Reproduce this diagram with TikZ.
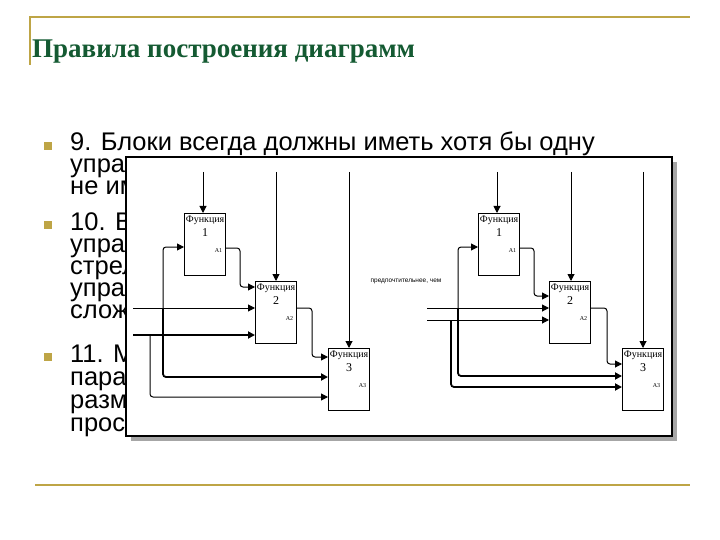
\documentclass[tikz,border=0pt]{standalone}
\usepackage{fontspec}
\setmainfont{Liberation Serif}
\newfontfamily\sansf{Liberation Sans}
\usetikzlibrary{arrows.meta}
\definecolor{gold}{RGB}{190,165,70}
\definecolor{titlegreen}{RGB}{20,90,50}
\tikzset{
  func/.style={draw, line width=1.2pt, minimum width=41pt, minimum height=62pt, anchor=north west, inner sep=0pt},
  arc/.style={line width=1pt, rounded corners=3pt, -{Triangle[length=7pt,width=7pt]}},
  bul/.style={fill=gold, minimum size=8pt, inner sep=0pt},
  body/.style={anchor=base west, font=\sansf\fontsize{25.5}{25}\selectfont, inner sep=0pt}
}
\newcommand{\funclabel}[1]{\parbox[t][58pt]{40pt}{\centering\fontsize{10}{10}\selectfont Функция\\[2pt]\fontsize{12}{12}\selectfont #1\\[10pt]\hfill\fontsize{6}{6}\selectfont A#1\hspace*{3pt}}}
\begin{document}
\begin{tikzpicture}[x=1pt,y=-1pt]
  \useasboundingbox (0,0) rectangle (720,540);
  % title and rules
  \draw[gold, line width=1.5pt] (30,65) -- (30,17) -- (690,17);
  \draw[gold, line width=1.5pt] (35,485) -- (690,485);
  \node[anchor=base west, text=titlegreen, font=\bfseries\fontsize{27}{27}\selectfont, inner sep=0pt] (title) at (32,58) {Правила построения диаграмм};
  % bullets
  \node[bul] (b1) at (48,146) {};
  \node[bul] (b2) at (48,225) {};
  \node[bul] (b3) at (48,357) {};
  \node[body] (t1) at (70,151) {9. Блоки всегда должны иметь хотя бы одну};
  \node[body] (t2) at (70,173) {управ};
  \node[body] (t3) at (70,195) {не им};
  \node[body] (t4) at (70,230) {10. В};
  \node[body] (t5) at (70,252) {управ};
  \node[body] (t6) at (70,274) {стрел};
  \node[body] (t7) at (70,296) {управ};
  \node[body] (t8) at (70,318) {слож};
  \node[body] (t9) at (70,362) {11. М};
  \node[body] (t10) at (70,385) {пара};
  \node[body] (t11) at (70,408) {разм};
  \node[body] (t12) at (70,431) {прос};
  % frame
  \fill[gray!70] (131,162) rectangle (677,441);
  \draw[fill=white, line width=1.5pt] (126,157) rectangle (672,436);
  \node[font=\sansf\fontsize{6.5}{6}\selectfont] (pref) at (406,281) {предпочтительнее, чем};
  % left diagram
  \node[func] (f1) at (184,213) {\funclabel{1}};
  \node[func] (f2) at (255,281) {\funclabel{2}};
  \node[func] (f3) at (328,348) {\funclabel{3}};
  \coordinate (c1) at (203,172);
  \coordinate (c2) at (276,172);
  \coordinate (c3) at (349,172);
  \coordinate (i1) at (133,308);
  \coordinate (i2) at (133,335);
  \draw[arc] (c1) -- (f1.north -| c1);
  \draw[arc] (c2) -- (f2.north -| c2);
  \draw[arc] (c3) -- (f3.north -| c3);
  \draw[arc] (f1.east |- 0,248) -- (240,248) -- (240,287) -- (f2.west |- 0,287);
  \draw[arc] (i1) -- (f2.west |- i1);
  \draw[arc, line width=1.8pt] (i2) -- (f2.west |- i2);
  \draw[arc] (163,308) -- (163,247) -- (f1.west |- 0,247);
  \draw[arc, line width=1.8pt] (163,308) -- (163,377) -- (f3.west |- 0,377);
  \draw[arc] (150,335) -- (150,397) -- (f3.west |- 0,397);
  \draw[arc] (f2.east |- 0,308) -- (312,308) -- (312,357) -- (f3.west |- 0,357);
  % right diagram
  \node[func] (g1) at (478,213) {\funclabel{1}};
  \node[func] (g2) at (549,281) {\funclabel{2}};
  \node[func] (g3) at (622,348) {\funclabel{3}};
  \coordinate (d1) at (497,172);
  \coordinate (d2) at (571,172);
  \coordinate (d3) at (643,172);
  \coordinate (j1) at (427,308);
  \coordinate (j2) at (427,320);
  \draw[arc] (d1) -- (g1.north -| d1);
  \draw[arc] (d2) -- (g2.north -| d2);
  \draw[arc] (d3) -- (g3.north -| d3);
  \draw[arc] (g1.east |- 0,248) -- (534,248) -- (534,296) -- (g2.west |- 0,296);
  \draw[arc] (j1) -- (g2.west |- j1);
  \draw[arc] (j2) -- (g2.west |- j2);
  \draw[arc] (458,308) -- (458,247) -- (g1.west |- 0,247);
  \draw[arc, line width=1.8pt] (458,308) -- (458,376) -- (g3.west |- 0,376);
  \draw[arc, line width=1.8pt] (451,320) -- (451,387) -- (g3.west |- 0,387);
  \draw[arc] (g2.east |- 0,308) -- (607,308) -- (607,364) -- (g3.west |- 0,364);
\end{tikzpicture}
\end{document}
